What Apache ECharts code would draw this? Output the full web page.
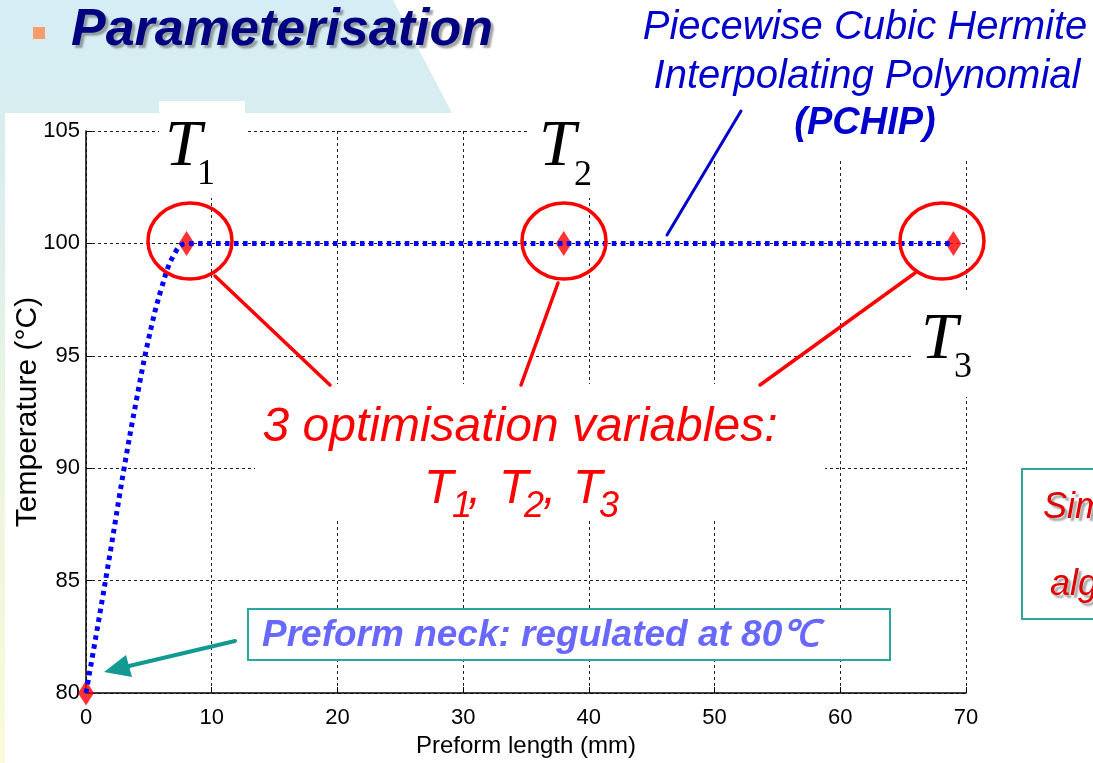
<!DOCTYPE html>
<html><head><meta charset="utf-8">
<script src="https://cdn.jsdelivr.net/npm/echarts@6/dist/echarts.min.js"></script>
<style>html,body{margin:0;padding:0;background:#fff}#c{width:1093px;height:763px}</style>
</head><body><div id="c"></div>
<script>
// ---- data ----
const xTickValues = [0, 10, 20, 30, 40, 50, 60, 70];
const yTickValues = [80, 85, 90, 95, 100, 105];
const curveX = [0, 1, 2, 3, 4, 5, 6, 7, 8, 38, 69];
const curveY = [80, 83.2, 86.5, 89.9, 93.0, 95.8, 98.0, 99.5, 100, 100, 100];
const knotX = [0, 8, 38, 69];
const knotY = [80, 100, 100, 100];
const xName = 'Preform length (mm)';
const yName = 'Temperature (°C)';

const SANS = '"Liberation Sans", Arial, Helvetica, sans-serif';
const SERIF = '"Liberation Serif", "Times New Roman", serif';

function txt(text, x, y, font, fill, align, extra) {
  return {
    type: 'text', z: 20, x: x, y: y,
    style: Object.assign({
      text: text, font: font, fill: fill,
      align: align || 'left', textAlign: align || 'left',
      verticalAlign: 'middle', textVerticalAlign: 'middle'
    }, extra || {})
  };
}
function box(x, y, w, h, stroke) {
  return { type: 'rect', z: 1, shape: { x: x, y: y, width: w, height: h },
    style: { fill: '#ffffff', stroke: stroke || null, lineWidth: stroke ? 2 : 0 } };
}
function seg(x1, y1, x2, y2, color, w) {
  return { type: 'line', z: 15, shape: { x1: x1, y1: y1, x2: x2, y2: y2 },
    style: { stroke: color, lineWidth: w, lineCap: 'round' } };
}
function ring(cx, cy) {
  return { type: 'ellipse', z: 15, shape: { cx: cx, cy: cy, rx: 42, ry: 38 },
    style: { fill: null, stroke: '#ff0000', lineWidth: 3.5 } };
}

const shadow = { textShadowColor: 'rgba(90,90,90,0.55)', textShadowOffsetX: 3, textShadowOffsetY: 3, textShadowBlur: 2 };

const graphics = [
  { type: 'polygon', z: 0, shape: { points: [[0,0],[393,0],[452,113],[5,113],[5,763],[0,763]] },
    style: { fill: { type: 'linear', x: 0, y: 0, x2: 0, y2: 1, colorStops: [
      { offset: 0, color: '#d5edf4' }, { offset: 0.2, color: '#d8eef0' },
      { offset: 0.6, color: '#ecf5df' }, { offset: 1, color: '#f9fbd8' } ] } } },
  box(159, 101, 86, 97),
  box(528, 113, 87, 85),
  box(610, 0, 483, 158),
  box(913, 293, 87, 104),
  box(255, 384, 570, 134),
  box(248, 609, 642, 51, '#2aa8a0'),
  box(1022, 469, 90, 150, '#2aa8a0'),
  { type: 'rect', z: 20, shape: { x: 33, y: 27, width: 12, height: 12 }, style: { fill: '#f89c6c' } },
  txt('Parameterisation', 71, 31, 'italic bold 52px ' + SANS, '#000080', 'left', shadow),
  txt('Piecewise Cubic Hermite', 865, 28, 'italic 40px ' + SANS, '#0000cc', 'center'),
  txt('Interpolating Polynomial', 867, 77, 'italic 40px ' + SANS, '#0000cc', 'center'),
  txt('(PCHIP)', 865, 124, 'italic bold 38px ' + SANS, '#0000cc', 'center'),
  seg(741, 111, 667, 235, '#0000cc', 3),
  txt('T', 165, 148, 'italic 66px ' + SERIF, '#000', 'left'),
  txt('1', 197, 175, '36px ' + SERIF, '#000', 'left'),
  txt('T', 539, 148, 'italic 66px ' + SERIF, '#000', 'left'),
  txt('2', 574, 176, '36px ' + SERIF, '#000', 'left'),
  txt('T', 921, 341, 'italic 66px ' + SERIF, '#000', 'left'),
  txt('3', 954, 368, '36px ' + SERIF, '#000', 'left'),
  ring(190, 241), ring(564, 241), ring(942, 241),
  seg(215, 276, 330, 385, '#ff0000', 3.5),
  seg(558, 283, 521, 385, '#ff0000', 3.5),
  seg(915, 273, 760, 385, '#ff0000', 3.5),
  txt('3 optimisation variables:', 520, 428, 'italic 48px ' + SANS, '#ff0000', 'center'),
  txt('T', 424, 490, 'italic 48px ' + SANS, '#ff0000', 'left'),
  txt('1', 452, 507, 'italic 36px ' + SANS, '#ff0000', 'left'),
  txt(',', 468, 490, 'italic 48px ' + SANS, '#ff0000', 'left'),
  txt('T', 499, 490, 'italic 48px ' + SANS, '#ff0000', 'left'),
  txt('2', 524, 507, 'italic 36px ' + SANS, '#ff0000', 'left'),
  txt(',', 543, 490, 'italic 48px ' + SANS, '#ff0000', 'left'),
  txt('T', 573, 490, 'italic 48px ' + SANS, '#ff0000', 'left'),
  txt('3', 599, 507, 'italic 36px ' + SANS, '#ff0000', 'left'),
  txt('Preform neck: regulated at 80℃', 262, 636, 'italic bold 37px ' + SANS, '#6868ff', 'left'),
  seg(235, 641, 129, 666, '#129a92', 4),
  { type: 'polygon', z: 15, shape: { points: [[104, 672], [132, 677], [126, 655]] }, style: { fill: '#129a92' } },
  txt('Simulation', 1043, 508, 'italic 36px ' + SANS, '#e00000', 'left', shadow),
  txt('algorithm', 1050, 585, 'italic 36px ' + SANS, '#e00000', 'left', shadow)
];

const chart = echarts.init(document.getElementById('c'), null, { renderer: 'canvas' });
const axisLabelBase = { color: '#000', fontFamily: SANS, fontSize: 22 };
const splitDash = { show: true, lineStyle: { color: '#222', width: 1, type: [3, 3] } };
chart.setOption({
  backgroundColor: '#ffffff',
  animation: false,
  grid: { left: 86, right: 127, top: 131, bottom: 70, containLabel: false, outerBoundsMode: 'none' },
  xAxis: {
    type: 'value', min: xTickValues[0], max: xTickValues[xTickValues.length - 1], interval: 10,
    name: xName, nameLocation: 'middle', nameGap: 40,
    nameTextStyle: { color: '#000', fontFamily: SANS, fontSize: 24 },
    axisLine: { show: true, onZero: false, lineStyle: { color: '#000', width: 1.5 } },
    axisTick: { show: true, inside: true, length: 6, lineStyle: { color: '#000' } },
    axisLabel: Object.assign({ margin: 14 }, axisLabelBase),
    splitLine: splitDash
  },
  yAxis: {
    type: 'value', min: yTickValues[0], max: yTickValues[yTickValues.length - 1], interval: 5,
    name: yName, nameLocation: 'middle', nameGap: 43, nameRotate: 90, nameMoveOverlap: false,
    nameTextStyle: { color: '#000', fontFamily: SANS, fontSize: 30 },
    axisLine: { show: true, onZero: false, lineStyle: { color: '#000', width: 1.5 } },
    axisTick: { show: true, inside: true, length: 6, lineStyle: { color: '#000' } },
    axisLabel: Object.assign({ margin: 6 }, axisLabelBase),
    splitLine: splitDash
  },
  series: [
    {
      type: 'scatter', z: 3, clip: false,
      data: knotX.map((x, i) => [x, knotY[i]]),
      symbol: 'diamond', symbolSize: [16, 25],
      itemStyle: { color: '#ff0000' }
    },
    {
      type: 'line', z: 4, clip: false,
      data: curveX.map((x, i) => [x, curveY[i]]),
      showSymbol: false, smooth: 0.4,
      lineStyle: { color: '#0000ff', width: 5, type: [4.5, 4.5], cap: 'butt' }
    }
  ],
  graphic: { elements: graphics }
});
</script></body></html>
